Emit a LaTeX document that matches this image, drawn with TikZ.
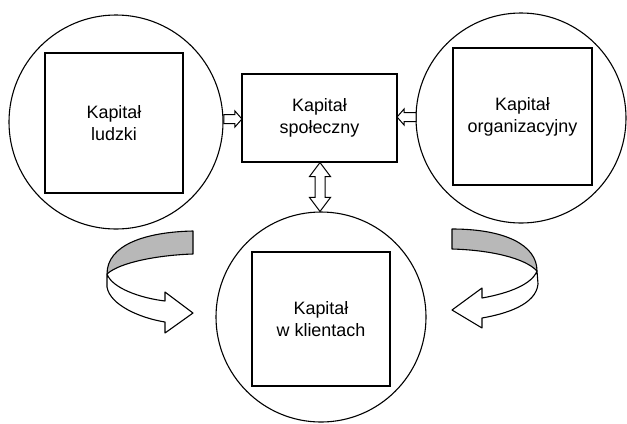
\documentclass[tikz,border=0pt]{standalone}
\usepackage{fontspec}
\setmainfont{Liberation Sans}
\usetikzlibrary{calc}
\begin{document}
\begin{tikzpicture}[x=1bp,y=-1bp,
  ring/.style={draw,circle,inner sep=0pt,line width=1.1bp},
  box/.style={draw,rectangle,inner sep=0pt,line width=1.1bp,align=center,
    font=\fontsize{18}{22}\selectfont},
  blockarr/.style={draw,fill=white,line width=1bp,line join=miter},
  ribbon/.style={draw,line width=1.1bp,line join=round},
  shade/.style={fill=black!28}]
\useasboundingbox (0,0) rectangle (627,423);
% circles
\node[ring,minimum size=214bp] (c1) at (116,122) {};
\node[ring,minimum size=210bp] (c2) at (521,118) {};
\node[ring,minimum size=210bp] (c3) at (321,317) {};
% boxes
\node[box,minimum width=138bp,minimum height=140bp] (s1) at (114,123) {Kapitał\\ludzki};
\node[box,minimum width=139bp,minimum height=137bp] (s2) at (522.5,116.5) {Kapitał\\organizacyjny};
\node[box,minimum width=138bp,minimum height=134bp] (s3) at (321,319) {Kapitał\\w klientach};
\node[box,minimum width=155bp,minimum height=88bp] (soc) at (319.5,118) {Kapitał\\społeczny};
% block arrows: circle -> box
\coordinate (p1) at (soc.west);
\draw[blockarr] ($(p1)+(0.5,1)$) -- ($(p1)+(-6.5,-7)$) -- ($(p1)+(-6.5,-3.5)$)
  -- ($(p1)+(-17.5,-3.5)$) -- ($(p1)+(-17.5,5.5)$) -- ($(p1)+(-6.5,5.5)$)
  -- ($(p1)+(-6.5,9)$) -- cycle;
\coordinate (p2) at (soc.east);
\draw[blockarr] ($(p2)+(-0.5,-1)$) -- ($(p2)+(6.5,-9)$) -- ($(p2)+(6.5,-5.5)$)
  -- ($(p2)+(18.5,-5.5)$) -- ($(p2)+(18.5,3.5)$) -- ($(p2)+(6.5,3.5)$)
  -- ($(p2)+(6.5,7)$) -- cycle;
% double arrow box <-> circle
\coordinate (p3) at ($(soc.south)+(0.5,0)$);
\coordinate (p4) at ($(c3.north)+(-1,0)$);
\draw[blockarr] (p3) -- ($(p3)+(10.5,14)$) -- ($(p3)+(5,14)$)
  -- ($(p4)+(5,-14)$) -- ($(p4)+(10.5,-14)$) -- (p4)
  -- ($(p4)+(-10.5,-14)$) -- ($(p4)+(-5,-14)$)
  -- ($(p3)+(-5,14)$) -- ($(p3)+(-10.5,14)$) -- cycle;
% left curved ribbon arrow
\fill[white] (193,231) .. controls (145,232) and (107,245) .. (107,274)
  -- (107,287) .. controls (110,305) and (140,318) .. (165,322)
  -- (165,333) -- (193,313) -- (165,292) -- (165,301)
  .. controls (140,298) and (112,288) .. (107,274)
  .. controls (120,262) and (160,255) .. (193,254) -- cycle;
\path[shade] (193,231) .. controls (145,232) and (107,245) .. (107,274)
  .. controls (120,262) and (160,255) .. (193,254) -- cycle;
\path[ribbon] (193,231) .. controls (145,232) and (107,245) .. (107,274)
  .. controls (120,262) and (160,255) .. (193,254) -- cycle;
\path[ribbon] (107,274) -- (107,287) .. controls (110,305) and (140,318) .. (165,322)
  -- (165,333) -- (193,313) -- (165,292) -- (165,301)
  .. controls (140,298) and (112,288) .. (107,274);
% right curved ribbon arrow
\path[shade] (452,229) .. controls (505,229) and (537,245) .. (537,271)
  .. controls (525,258) and (490,250) .. (452,249) -- cycle;
\path[ribbon] (452,229) .. controls (505,229) and (537,245) .. (537,271)
  .. controls (525,258) and (490,250) .. (452,249) -- cycle;
\path[ribbon] (537,271) -- (538,284) .. controls (536,305) and (505,314) .. (482,318)
  -- (482,328) -- (452,310) -- (482,288) -- (482,298)
  .. controls (510,293) and (532,284) .. (537,271);
\end{tikzpicture}
\end{document}
